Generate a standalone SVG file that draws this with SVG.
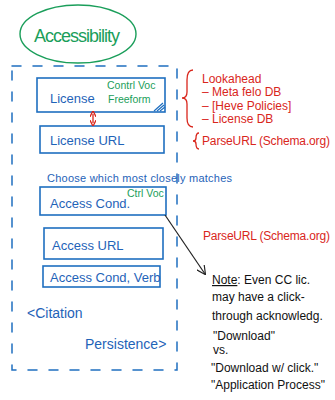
<svg xmlns="http://www.w3.org/2000/svg" width="335" height="400" viewBox="0 0 335 400">
<defs>
<style>
.b{fill:none;stroke:#1f6fc0;stroke-width:1.6}
.bt{font-family:"Liberation Sans",Arial,sans-serif;fill:#1f63b8;font-size:13px}
.gt{font-family:"Liberation Sans",Arial,sans-serif;fill:#1a9e5a;font-size:10.5px}
.rt{font-family:"Liberation Sans",Arial,sans-serif;fill:#d9261c;font-size:12px}
.kt{font-family:"Liberation Sans",Arial,sans-serif;fill:#111;font-size:12px}
.dash{fill:none;stroke:#1f6fc0;stroke-width:1.5;stroke-dasharray:9 12;stroke-linecap:round}
</style>
<marker id="ah" viewBox="0 0 10 10" refX="9" refY="5" markerWidth="9" markerHeight="9" orient="auto-start-reverse" markerUnits="userSpaceOnUse">
<path d="M0,0 L10,5 L0,10" fill="none" stroke="#222" stroke-width="1.3"/>
</marker>
<marker id="rh" viewBox="0 0 10 10" refX="5" refY="5" markerWidth="5" markerHeight="5" orient="auto-start-reverse">
<path d="M0,0 L10,5 L0,10" fill="none" stroke="#d9261c" stroke-width="2"/>
</marker>
</defs>
<rect width="335" height="400" fill="#fff"/>

<g id="accessibility">
<ellipse cx="78" cy="34" rx="58" ry="29" fill="none" stroke="#1a9e5a" stroke-width="1.4"/>
<text x="34" y="42" style="font-family:'Liberation Sans',Arial,sans-serif;fill:#1a9e5a;font-size:18px" textLength="86">Accessibility</text>
</g>

<g id="container">
<rect x="12" y="66" width="165" height="304" class="dash"/>
</g>

<g id="license">
<rect x="37" y="78" width="128" height="34" class="b"/>
<text x="50" y="103" class="bt">License</text>
<text x="107" y="89" class="gt">Contrl Voc</text>
<text x="108" y="103" class="gt">Freeform</text>
<path d="M154,111 L163,103 M157,111 L164,105 M160,111 L165,107" stroke="#1f6fc0" stroke-width="1.2" fill="none"/>
</g>

<g id="license-url">
<rect x="40" y="126" width="124" height="27" class="b"/>
<text x="50" y="145" class="bt">License URL</text>
</g>

<g id="choose">
<text x="47" y="182" class="bt" style="font-size:11px" textLength="185">Choose which most closely matches</text>
</g>

<g id="access-cond">
<rect x="40" y="187" width="126" height="28" class="b"/>
<text x="50" y="208" class="bt">Access Cond.</text>
<text x="127" y="197" class="gt">Ctrl Voc</text>
</g>

<g id="access-url">
<rect x="44" y="228" width="119" height="31" class="b"/>
<text x="52" y="250" class="bt">Access URL</text>
</g>

<g id="access-cond-verb">
<rect x="43" y="266" width="117" height="21" class="b"/>
<text x="50" y="282" class="bt">Access Cond, Verb</text>
</g>

<g id="citation">
<text x="27" y="318" class="bt" style="font-size:14px">&lt;Citation</text>
<text x="85" y="349" class="bt" style="font-size:14px">Persistence&gt;</text>
</g>

<g id="lookahead">
<path d="M193,70 Q187,70 187,80 L187,92 Q187,98 182,98 Q187,98 187,104 L187,118 Q187,127 193,127" fill="none" stroke="#d9261c" stroke-width="1.3"/>
<text x="202" y="83" class="rt">Lookahead</text>
<text x="202" y="96" class="rt">– Meta felo DB</text>
<text x="202" y="110" class="rt">– [Heve Policies]</text>
<text x="202" y="123" class="rt">– License DB</text>
</g>

<g id="parse-url-1">
<path d="M199,133 Q196,133 196,138 Q196,141 193,141 Q196,141 196,144 Q196,149 199,149" fill="none" stroke="#d9261c" stroke-width="1.3"/>
<text x="202" y="145" class="rt" textLength="128">ParseURL (Schema.org)</text>
</g>

<g id="parse-url-2">
<text x="203" y="240" class="rt" textLength="127">ParseURL (Schema.org)</text>
</g>

<g id="note">
<text x="212" y="284" class="kt"><tspan text-decoration="underline">Note</tspan>: Even CC lic.</text>
<text x="212" y="301" class="kt">may have a click-</text>
<text x="212" y="320" class="kt">through acknowledg.</text>
<text x="213" y="340" class="kt">"Download"</text>
<text x="213" y="354" class="kt">vs.</text>
<text x="211" y="372" class="kt">"Download w/ click."</text>
<text x="211" y="389" class="kt">"Application Process"</text>
</g>

<g id="connectors">
<line x1="93" y1="114" x2="93" y2="123" stroke="#d9261c" stroke-width="1.3" marker-start="url(#rh)" marker-end="url(#rh)"/>
<line x1="165" y1="215" x2="205" y2="274" stroke="#222" stroke-width="1.2" marker-end="url(#ah)"/>
</g>
</svg>
